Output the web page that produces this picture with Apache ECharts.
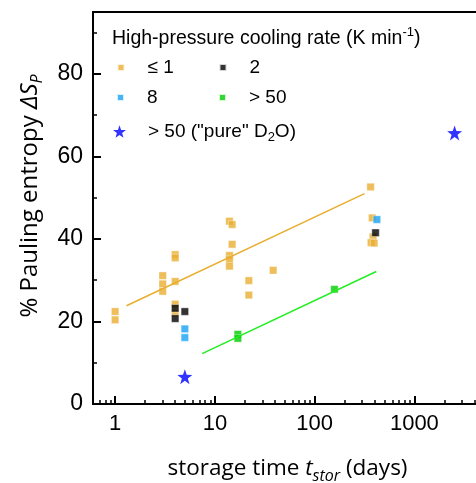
<!DOCTYPE html>
<html lang="en">
<head>
<meta charset="UTF-8">
<title>Pauling entropy vs storage time</title>
<script src="https://cdn.jsdelivr.net/npm/echarts@6/dist/echarts.min.js"></script>
</head>
<body style="margin:0">
<div id="chart" style="width:476px;height:483px;"></div>
<script>
// storage time (days) and % Pauling entropy
var slowX = [1.0, 1.0, 3.0, 3.0, 3.0, 4.0, 4.0, 4.0, 4.0, 4.0, 14.0, 14.9, 14.9, 14.0, 14.0, 14.0, 21.9, 21.9, 38.4, 364, 378, 385, 368, 395];
var slowY = [22.4, 20.4, 31.1, 29.1, 27.3, 36.2, 35.4, 29.7, 24.2, 22.0, 44.3, 43.5, 38.7, 36.0, 35.0, 33.4, 29.9, 26.4, 32.4, 52.6, 45.1, 40.5, 39.1, 39.0];
var twoX = [4.0, 4.0, 5.0, 408];
var twoY = [23.2, 20.7, 22.4, 41.5];
var eightX = [5.0, 5.0, 421];
var eightY = [18.2, 16.1, 44.7];
var fastX = [17.0, 17.0, 158];
var fastY = [16.9, 15.9, 27.8];
var pureX = [5.0, 2530];
var pureY = [6.6, 65.7];
// fitted lines (end points)
var fitSlowX = [1.30, 316];
var fitSlowY = [23.8, 51.0];
var fitFastX = [7.46, 415];
var fitFastY = [12.2, 32.1];

var xMajor = [1, 10, 100, 1000];
var xMinor = [];
[0.1, 1, 10, 100, 1000].forEach(function (d) {
    for (var k = 2; k <= 9; k++) xMinor.push(k * d);
});
var yMajor = [0, 20, 40, 60, 80];
var yMinor = [10, 30, 50, 70, 90];

function pairs(xs, ys) {
    return xs.map(function (x, i) { return [x, ys[i]]; });
}

var star = 'path://M0,-10L2.35,-3.24L9.51,-3.09L3.8,1.24L5.88,8.09L0,4L-5.88,8.09L-3.8,1.24L-9.51,-3.09L-2.35,-3.24Z';
var cOrange = '#e8ae30', cBlue = '#18a2f6', cGreen = '#00cc00', cStar = '#0000ff';
var fontA = 'Liberation Sans, Arial, sans-serif';
var fontB = 'Open Sans, Noto Sans, sans-serif';

function legendAt(name, left, top, iconW, pad) {
    return {
        data: [name], left: left, top: top, padding: 0,
        itemWidth: iconW, itemHeight: iconW, selectedMode: false,
        textStyle: { fontFamily: fontA, fontSize: 19, color: '#000', padding: [0, 0, 0, pad],
            rich: {
                t: { fontFamily: fontA, fontSize: 19, color: '#000' },
                sub: { fontFamily: fontA, fontSize: 13, color: '#000', padding: [12, 0, 0, 0] }
            }
        },
        formatter: function (n) {
            if (n.indexOf('pure') >= 0) return '{t|> 50 ("pure" D}{sub|2}{t|O)}';
            return n;
        }
    };
}

var myChart = echarts.init(document.getElementById('chart'));
var option = {
    animation: false,
    grid: { left: 93, top: 12, bottom: 79, right: -16, outerBoundsMode: 'none',
            show: true, borderColor: '#000', borderWidth: 1.8 },
    title: {
        text: '{t|High-pressure cooling rate (K min}{sup|-1}{t|)}',
        left: 112, top: 26, padding: 0,
        textStyle: {
            rich: {
                t: { fontFamily: fontA, fontSize: 19.5, fontWeight: 'normal', color: '#000' },
                sup: { fontFamily: fontA, fontSize: 13, fontWeight: 'normal', color: '#000', padding: [0, 0, 12, 0] }
            }
        }
    },
    legend: [
        legendAt('≤ 1', 116.5, 58, 7, 18),
        legendAt('2', 218.5, 58, 7, 18),
        legendAt('8', 116, 88, 7, 18),
        legendAt('> 50', 218, 88, 7, 18),
        legendAt('> 50 ("pure" D2O)', 113, 122, 13, 17)
    ],
    xAxis: [{
        type: 'log', logBase: 10, min: 0.6, max: 6000, position: 'bottom',
        axisLine: { lineStyle: { color: '#000', width: 2 } },
        axisTick: { inside: true, length: 8, customValues: xMajor, lineStyle: { color: '#000', width: 2 } },
        axisLabel: { customValues: xMajor, margin: 9, color: '#000', fontFamily: fontA, fontSize: 22,
            formatter: function (v) { return String(Math.round(v)); } },
        splitLine: { show: false },
        name: '{n|storage time }{i|t}{sub|stor}{n| (days)}',
        nameLocation: 'middle', nameGap: 50,
        nameTextStyle: {
            padding: [0, 10, 0, 0],
            rich: {
                n: { fontFamily: fontB, fontSize: 22.5, color: '#000' },
                i: { fontFamily: fontB, fontSize: 22.5, fontStyle: 'italic', color: '#000' },
                sub: { fontFamily: fontB, fontSize: 16, fontStyle: 'italic', color: '#000', padding: [14, 0, 0, 0] }
            }
        }
    }, {
        type: 'log', logBase: 10, min: 0.6, max: 6000, position: 'bottom',
        axisLine: { show: false },
        axisTick: { inside: true, length: 4, customValues: xMinor, lineStyle: { color: '#000', width: 1.5 } },
        axisLabel: { show: false },
        splitLine: { show: false }
    }],
    yAxis: [{
        type: 'value', min: 0, max: 95, position: 'left',
        axisLine: { show: true, lineStyle: { color: '#000', width: 2 } },
        axisTick: { show: true, inside: true, length: 8, customValues: yMajor, lineStyle: { color: '#000', width: 2 } },
        axisLabel: { customValues: yMajor, margin: 10, color: '#000', fontFamily: fontA, fontSize: 23 },
        splitLine: { show: false },
        name: '{n|% Pauling entropy }{i|ΔS}{sub|P}',
        nameLocation: 'middle', nameGap: 48, nameRotate: 90,
        nameTextStyle: {
            padding: [0, 0, 0, 24],
            rich: {
                n: { fontFamily: fontB, fontSize: 24, color: '#000' },
                i: { fontFamily: fontB, fontSize: 24, fontStyle: 'italic', color: '#000' },
                sub: { fontFamily: fontB, fontSize: 16, fontStyle: 'italic', color: '#000', padding: [14, 0, 0, 0] }
            }
        }
    }, {
        type: 'value', min: 0, max: 95, position: 'left',
        axisLine: { show: false },
        axisTick: { show: true, inside: true, length: 4, customValues: yMinor, lineStyle: { color: '#000', width: 1.5 } },
        axisLabel: { show: false },
        splitLine: { show: false }
    }],
    series: [
        { name: 'fitSlow', type: 'line', data: pairs(fitSlowX, fitSlowY), symbol: 'none',
          lineStyle: { color: cOrange, width: 1.5 } },
        { name: 'fitFast', type: 'line', data: pairs(fitFastX, fitFastY), symbol: 'none',
          lineStyle: { color: '#22ee22', width: 1.5 } },
        { name: '≤ 1', type: 'scatter', symbol: 'rect', symbolSize: 7.5, data: pairs(slowX, slowY),
          itemStyle: { color: cOrange, borderColor: '#fff', borderWidth: 0.5 } },
        { name: '2', type: 'scatter', symbol: 'rect', symbolSize: 7.5, data: pairs(twoX, twoY),
          itemStyle: { color: '#000', borderColor: '#fff', borderWidth: 0.5 } },
        { name: '8', type: 'scatter', symbol: 'rect', symbolSize: 7.5, data: pairs(eightX, eightY),
          itemStyle: { color: cBlue, borderColor: '#fff', borderWidth: 0.5 } },
        { name: '> 50', type: 'scatter', symbol: 'rect', symbolSize: 7.5, data: pairs(fastX, fastY),
          itemStyle: { color: cGreen, borderColor: '#fff', borderWidth: 0.5 } },
        { name: '> 50 ("pure" D2O)', type: 'scatter', symbol: star, symbolSize: 15, data: pairs(pureX, pureY),
          itemStyle: { color: cStar } }
    ]
};
myChart.setOption(option);
</script>
</body>
</html>
